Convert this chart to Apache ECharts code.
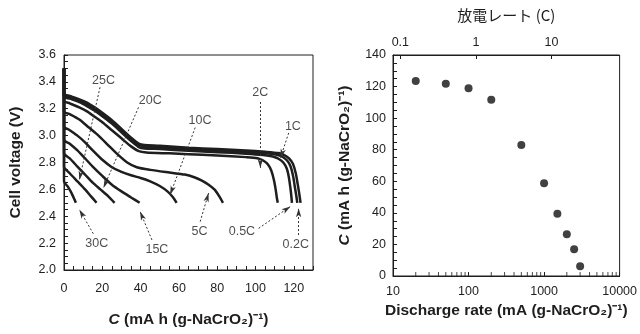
<!DOCTYPE html>
<html><head><meta charset="utf-8">
<script src="https://cdn.jsdelivr.net/npm/echarts@6/dist/echarts.min.js"></script>
<style>html,body{margin:0;padding:0;background:#fff}#c{width:640px;height:334px}</style>
</head><body><div id="c"></div>
<script>
// ---- Left panel: discharge curves [capacity (mAh/g), voltage (V)] ----
const curveNames = ['0.2C','0.5C','1C','2C','5C','10C','15C','20C','25C','30C'];
const c02 = [[0,3.5],[0,3.31],[3,3.295],[8,3.27],[12,3.245],[16,3.21],[20,3.17],[25,3.115],[30,3.05],[35,2.985],[39,2.94],[42,2.93],[50,2.925],[65,2.91],[80,2.9],[95,2.89],[105,2.88],[112,2.87],[115,2.855],[117.5,2.83],[119.5,2.79],[121,2.72],[122,2.64],[122.8,2.57],[123.5,2.5]];
const c05 = [[0,3.5],[0,3.3],[3,3.285],[8,3.26],[12,3.235],[16,3.2],[20,3.16],[25,3.105],[30,3.04],[35,2.975],[39,2.93],[42,2.918],[50,2.912],[65,2.898],[80,2.888],[95,2.878],[105,2.868],[111,2.858],[114,2.843],[116.5,2.815],[118.3,2.77],[119.6,2.7],[120.5,2.62],[121.2,2.56],[121.8,2.5]];
const c1 = [[0,3.5],[0,3.29],[3,3.275],[8,3.25],[12,3.22],[16,3.185],[20,3.145],[25,3.09],[30,3.025],[35,2.96],[39,2.915],[42,2.905],[50,2.9],[65,2.887],[80,2.877],[95,2.866],[104,2.856],[109,2.845],[112,2.828],[114.5,2.8],[116.3,2.755],[117.4,2.69],[118.2,2.61],[118.7,2.55],[119,2.5]];
const c2 = [[0,3.5],[0,3.26],[3,3.24],[8,3.21],[12,3.18],[16,3.14],[20,3.1],[25,3.04],[30,2.98],[35,2.92],[39,2.885],[43,2.875],[55,2.868],[65,2.862],[80,2.852],[95,2.84],[101,2.832],[104,2.815],[106.5,2.785],[108.2,2.74],[109.5,2.675],[110.5,2.6],[111.1,2.54],[111.6,2.5]];
const c5 = [[0,3.5],[0,3.18],[3,3.16],[8,3.12],[13,3.06],[18,3.0],[23,2.93],[28,2.86],[33,2.8],[38,2.765],[45,2.745],[55,2.725],[63,2.71],[68,2.69],[72,2.665],[75.5,2.635],[78.5,2.6],[81,2.55],[83,2.5]];
const c10 = [[0,3.5],[0,3.07],[3,3.04],[7,3.0],[11,2.95],[15,2.89],[20,2.82],[25,2.765],[30,2.73],[35,2.705],[40,2.685],[45,2.66],[50,2.625],[54,2.585],[57,2.54],[58.8,2.5]];
const c15 = [[0,3.5],[0,2.97],[3,2.94],[7,2.89],[11,2.83],[15,2.77],[20,2.7],[25,2.635],[30,2.585],[35,2.54],[39.5,2.5]];
const c20 = [[0,3.5],[0,2.87],[3,2.83],[7,2.77],[11,2.71],[15,2.65],[19,2.6],[23,2.55],[26.4,2.5]];
const c25 = [[0,3.5],[0,2.77],[3,2.72],[7,2.66],[11,2.6],[14,2.55],[17,2.5]];
const c30 = [[0,3.5],[0,2.66],[2,2.62],[4,2.57],[6.2,2.5]];

// ---- Right panel: rate capability ----
const rateValues = [20,50,100,200,500,1000,1500,2000,2500,3000];          // mA (g-NaCrO2)^-1
const capacityValues = [123.5,121.8,119,111.6,83,58.8,39.5,26.4,17,6.2];  // mA h (g-NaCrO2)^-1

// ---- Annotation labels (data coordinates of left panel) ----
const annoText = ['25C','20C','10C','2C','1C','30C','15C','5C','0.5C','0.2C'];
const annoTextAt = [[20.6,3.41],[45,3.26],[71,3.11],[102.5,3.32],[119.5,3.07],[17.1,2.2],[48.5,2.15],[70.8,2.286],[92.9,2.286],[121,2.187]];
const annoFrom = [[18.8,3.36],[38.9,3.21],[68.5,3.06],[102.5,3.25],[117.3,3.02],[15.3,2.27],[45.9,2.224],[71.1,2.36],[101.6,2.31],[122.5,2.26]];
const annoTo = [[8.0,2.67],[20.6,2.61],[55.4,2.56],[102.5,2.76],[113,2.835],[8,2.45],[39.7,2.436],[75.5,2.573],[118.2,2.473],[122.5,2.46]];

const FONT = '"Liberation Sans", Arial, Helvetica, sans-serif';
const INK = '#1e1e1e';

// log-axis minor tick positions (2..9 in each decade)
const logMinor = [];
[10,100,1000].forEach(d => { for (let k = 2; k <= 9; k++) logMinor.push([d*k, 0]); });

const curves = [c02,c05,c1,c2,c5,c10,c15,c20,c25,c30];
const series = curves.map((d,i) => ({
  type:'line', name:curveNames[i], xAxisIndex:0, yAxisIndex:0, data:d,
  showSymbol:false, smooth:0.25, silent:true,
  lineStyle:{width:2.5, color:INK}, z:2
}));

series.push({
  type:'line', xAxisIndex:0, yAxisIndex:0, data:[], silent:true, z:3,
  markLine:{
    silent:true, symbol:['none','arrow'], symbolSize:[4,9], animation:false,
    label:{show:false},
    lineStyle:{type:[2,2], color:'#333', width:1},
    data: annoFrom.map((f,i) => [{coord:f},{coord:annoTo[i]}])
  }
});
series.push({
  type:'scatter', xAxisIndex:0, yAxisIndex:0, silent:true, symbolSize:1, z:4,
  itemStyle:{color:'rgba(0,0,0,0)'},
  label:{show:true, position:'inside', formatter:'{b}', fontSize:12.5, color:INK, fontFamily:FONT},
  data: annoText.map((t,i) => ({name:t, value:annoTextAt[i]}))
});
series.push({
  type:'scatter', xAxisIndex:1, yAxisIndex:1, silent:true, symbolSize:8,
  itemStyle:{color:'#111'},
  data: rateValues.map((r,i) => [r, capacityValues[i]])
});
series.push({
  type:'scatter', xAxisIndex:1, yAxisIndex:1, silent:true, symbol:'rect',
  symbolSize:[1,4], symbolOffset:[0,-2], itemStyle:{color:INK}, clip:false,
  data: logMinor
});

const TITLE_SIZE = 15.5;
const axisCommon = {
  axisLine:{lineStyle:{color:INK, width:1}},
  axisTick:{inside:true, length:4, lineStyle:{color:INK}},
  splitLine:{show:false},
  axisLabel:{fontSize:12.5, color:INK, fontFamily:FONT},
  nameTextStyle:{fontSize:TITLE_SIZE, fontWeight:'bold', color:INK, fontFamily:FONT},
  nameLocation:'middle'
};
const rich = {
  i:{fontStyle:'italic', fontWeight:'bold', fontSize:TITLE_SIZE, color:INK, fontFamily:FONT},
  b:{fontWeight:'bold', fontSize:TITLE_SIZE, color:INK, fontFamily:FONT}
};
const capName = '{i|C}{b| (mA h (g-NaCrO₂)⁻¹)}';

const option = {
  animation:false,
  backgroundColor:'#fff',
  grid:[
    {left:64, top:55, width:249, height:215, show:true, borderColor:INK, borderWidth:1, backgroundColor:'transparent'},
    {left:393, top:55, width:231, height:221, show:true, borderColor:INK, borderWidth:1, backgroundColor:'transparent'}
  ],
  xAxis:[
    Object.assign({}, axisCommon, {
      gridIndex:0, type:'value', min:0, max:130, interval:5,
      axisLabel:Object.assign({}, axisCommon.axisLabel, {margin:12,
        formatter:v => (v % 20 === 0 && v <= 120) ? String(v) : ''}),
      name:capName, nameGap:42, nameTextStyle:Object.assign({}, axisCommon.nameTextStyle, {rich})
    }),
    Object.assign({}, axisCommon, {
      gridIndex:1, type:'log', logBase:10, min:10, max:10000, position:'bottom',
      axisLabel:Object.assign({}, axisCommon.axisLabel, {margin:9,
        formatter:v => String(Math.round(v))}),
      name:'Discharge rate (mA (g-NaCrO₂)⁻¹)', nameGap:20
    }),
    Object.assign({}, axisCommon, {
      gridIndex:1, type:'log', logBase:10, min:0.08, max:80, position:'top',
      axisLabel:Object.assign({}, axisCommon.axisLabel, {margin:6, showMinLabel:false, showMaxLabel:false,
        formatter:v => { const r = Math.round(v*1000)/1000; return (r===0.1||r===1||r===10) ? String(r) : ''; }}),
      name:'放電レート (C)', nameGap:32,
      nameTextStyle:{fontSize:15, color:INK, fontFamily:'"Noto Sans CJK JP", "Noto Sans", sans-serif'}
    })
  ],
  yAxis:[
    Object.assign({}, axisCommon, {
      gridIndex:0, type:'value', min:2.0, max:3.6, interval:0.05,
      axisLabel:Object.assign({}, axisCommon.axisLabel, {margin:8,
        formatter:v => { const r = Math.round(v*100); return r % 20 === 0 ? (r/100).toFixed(1) : ''; }}),
      name:'Cell voltage (V)', nameGap:40
    }),
    Object.assign({}, axisCommon, {
      gridIndex:1, type:'value', min:0, max:140, interval:5,
      axisLabel:Object.assign({}, axisCommon.axisLabel, {margin:7,
        formatter:v => v % 20 === 0 ? String(v) : ''}),
      name:capName, nameGap:40, nameTextStyle:Object.assign({}, axisCommon.nameTextStyle, {rich})
    })
  ],
  series
};
const chart = echarts.init(document.getElementById('c'), null, {renderer:'canvas'});
chart.setOption(option);
</script>
</body></html>
